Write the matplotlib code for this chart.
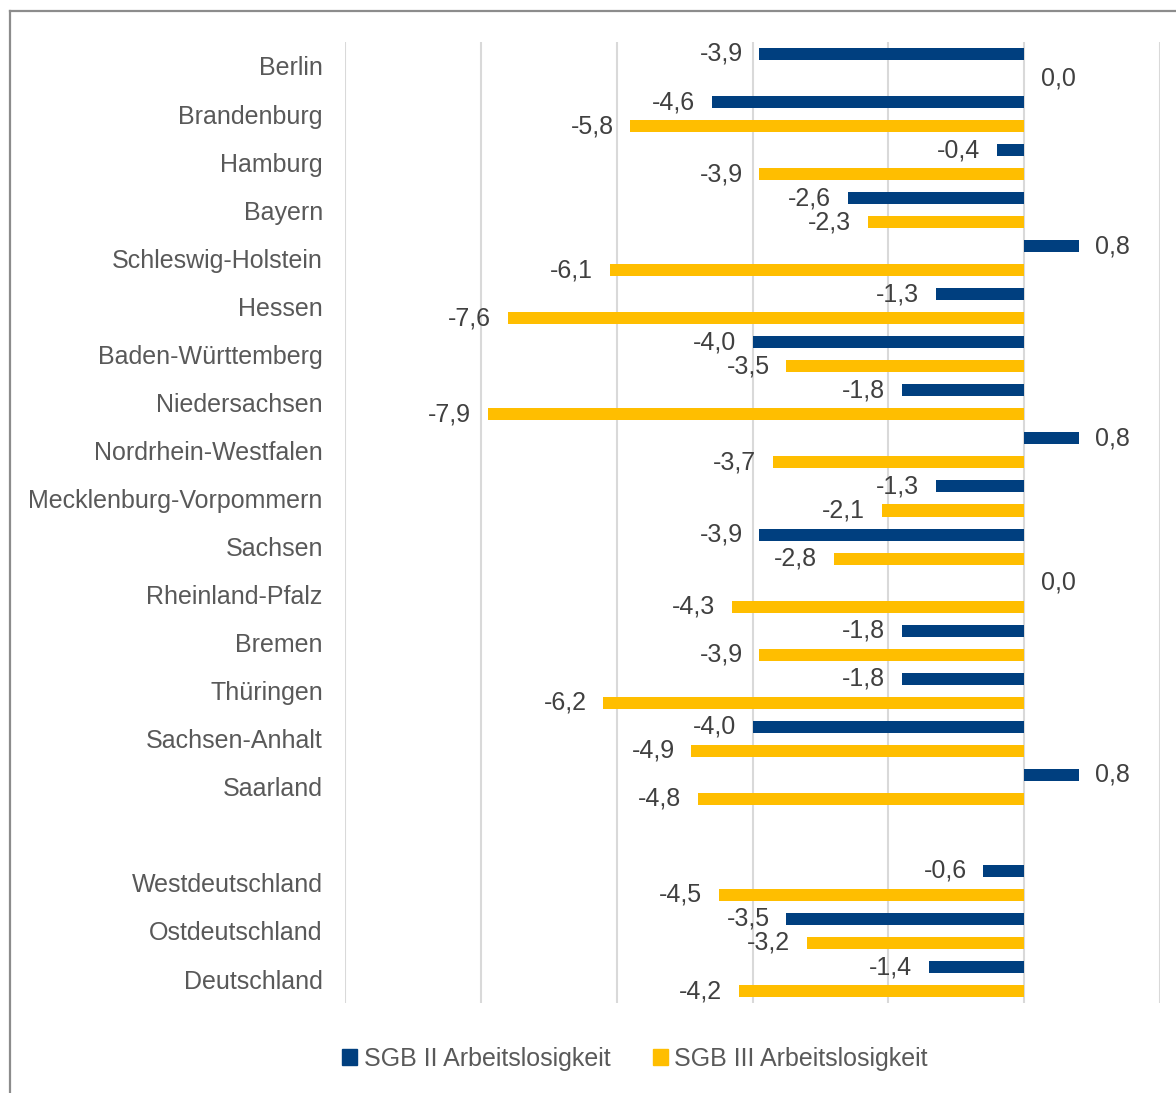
"""
Veränderung der Arbeitslosigkeit nach Rechtskreis und Bundesland (horizontal bars).
"""
import numpy as np
import matplotlib
matplotlib.use("Agg")
import matplotlib.pyplot as plt
from matplotlib.patches import Patch
from matplotlib.lines import Line2D

plt.rcParams['font.family'] = ['Liberation Sans', 'DejaVu Sans']

regions = ['Berlin', 'Brandenburg', 'Hamburg', 'Bayern', 'Schleswig-Holstein',
           'Hessen', 'Baden-Württemberg', 'Niedersachsen', 'Nordrhein-Westfalen',
           'Mecklenburg-Vorpommern', 'Sachsen', 'Rheinland-Pfalz', 'Bremen',
           'Thüringen', 'Sachsen-Anhalt', 'Saarland', '',
           'Westdeutschland', 'Ostdeutschland', 'Deutschland']
sgb2 = [-3.9, -4.6, -0.4, -2.6, 0.8, -1.3, -4.0, -1.8, 0.8, -1.3, -3.9, 0.0,
        -1.8, -1.8, -4.0, 0.8, np.nan, -0.6, -3.5, -1.4]
sgb3 = [0.0, -5.8, -3.9, -2.3, -6.1, -7.6, -3.5, -7.9, -3.7, -2.1, -2.8, -4.3,
        -3.9, -6.2, -4.9, -4.8, np.nan, -4.5, -3.2, -4.2]
series_names = ['SGB II Arbeitslosigkeit', 'SGB III Arbeitslosigkeit']
colors = ['#003F7F', '#FFBE00']
text_gray = '#595959'


def fmt(v):
    return f"{v:.1f}".replace('.', ',')


fig = plt.figure(figsize=(11.76, 10.93), dpi=100)
ax = fig.add_axes([0.2934, 0.0823, 0.6930, 0.8793])

y = np.arange(len(regions))
bar_h = 0.25
for k, (vals, color) in enumerate(zip([sgb2, sgb3], colors)):
    vals = np.array(vals, dtype=float)
    mask = ~np.isnan(vals)
    offs = -bar_h if k == 0 else bar_h
    bars = ax.barh(y[mask] + offs, vals[mask], height=bar_h, color=color)
    ax.bar_label(bars, labels=[fmt(v) for v in vals[mask]], padding=12,
                 fontsize=18, color='#404040')

ax.set_xlim(-10, 2)
ax.set_ylim(len(regions) - 0.5, -0.5)
ax.set_xticks(np.arange(-10, 3, 2))
ax.set_xticklabels([])
ax.tick_params(axis='x', length=0)
ax.set_yticks(y)
ax.set_yticklabels(regions, fontsize=18, color=text_gray)
ax.tick_params(axis='y', length=0, pad=16)
ax.grid(axis='x', color='#D9D9D9', linewidth=1.5)
ax.set_axisbelow(True)
for s in ax.spines.values():
    s.set_visible(False)

handles = [Patch(color=c) for c in colors]
leg = fig.legend(handles, series_names, loc='center', bbox_to_anchor=(0.54, 0.031),
                 ncol=2, frameon=False, fontsize=18, handlelength=0.6,
                 handleheight=0.6, handletextpad=0.25, columnspacing=1.7)
for t in leg.get_texts():
    t.set_color(text_gray)

# outer frame (cut at right and bottom edge)
frame_x = 10 / 1176
frame_y = 1 - 11 / 1093
fig.add_artist(Line2D([frame_x, frame_x], [0, frame_y], color='#8C8C8C', lw=1.6,
                      transform=fig.transFigure))
fig.add_artist(Line2D([frame_x, 1], [frame_y, frame_y], color='#8C8C8C', lw=1.6,
                      transform=fig.transFigure))

fig.savefig('out.png', dpi=100)
